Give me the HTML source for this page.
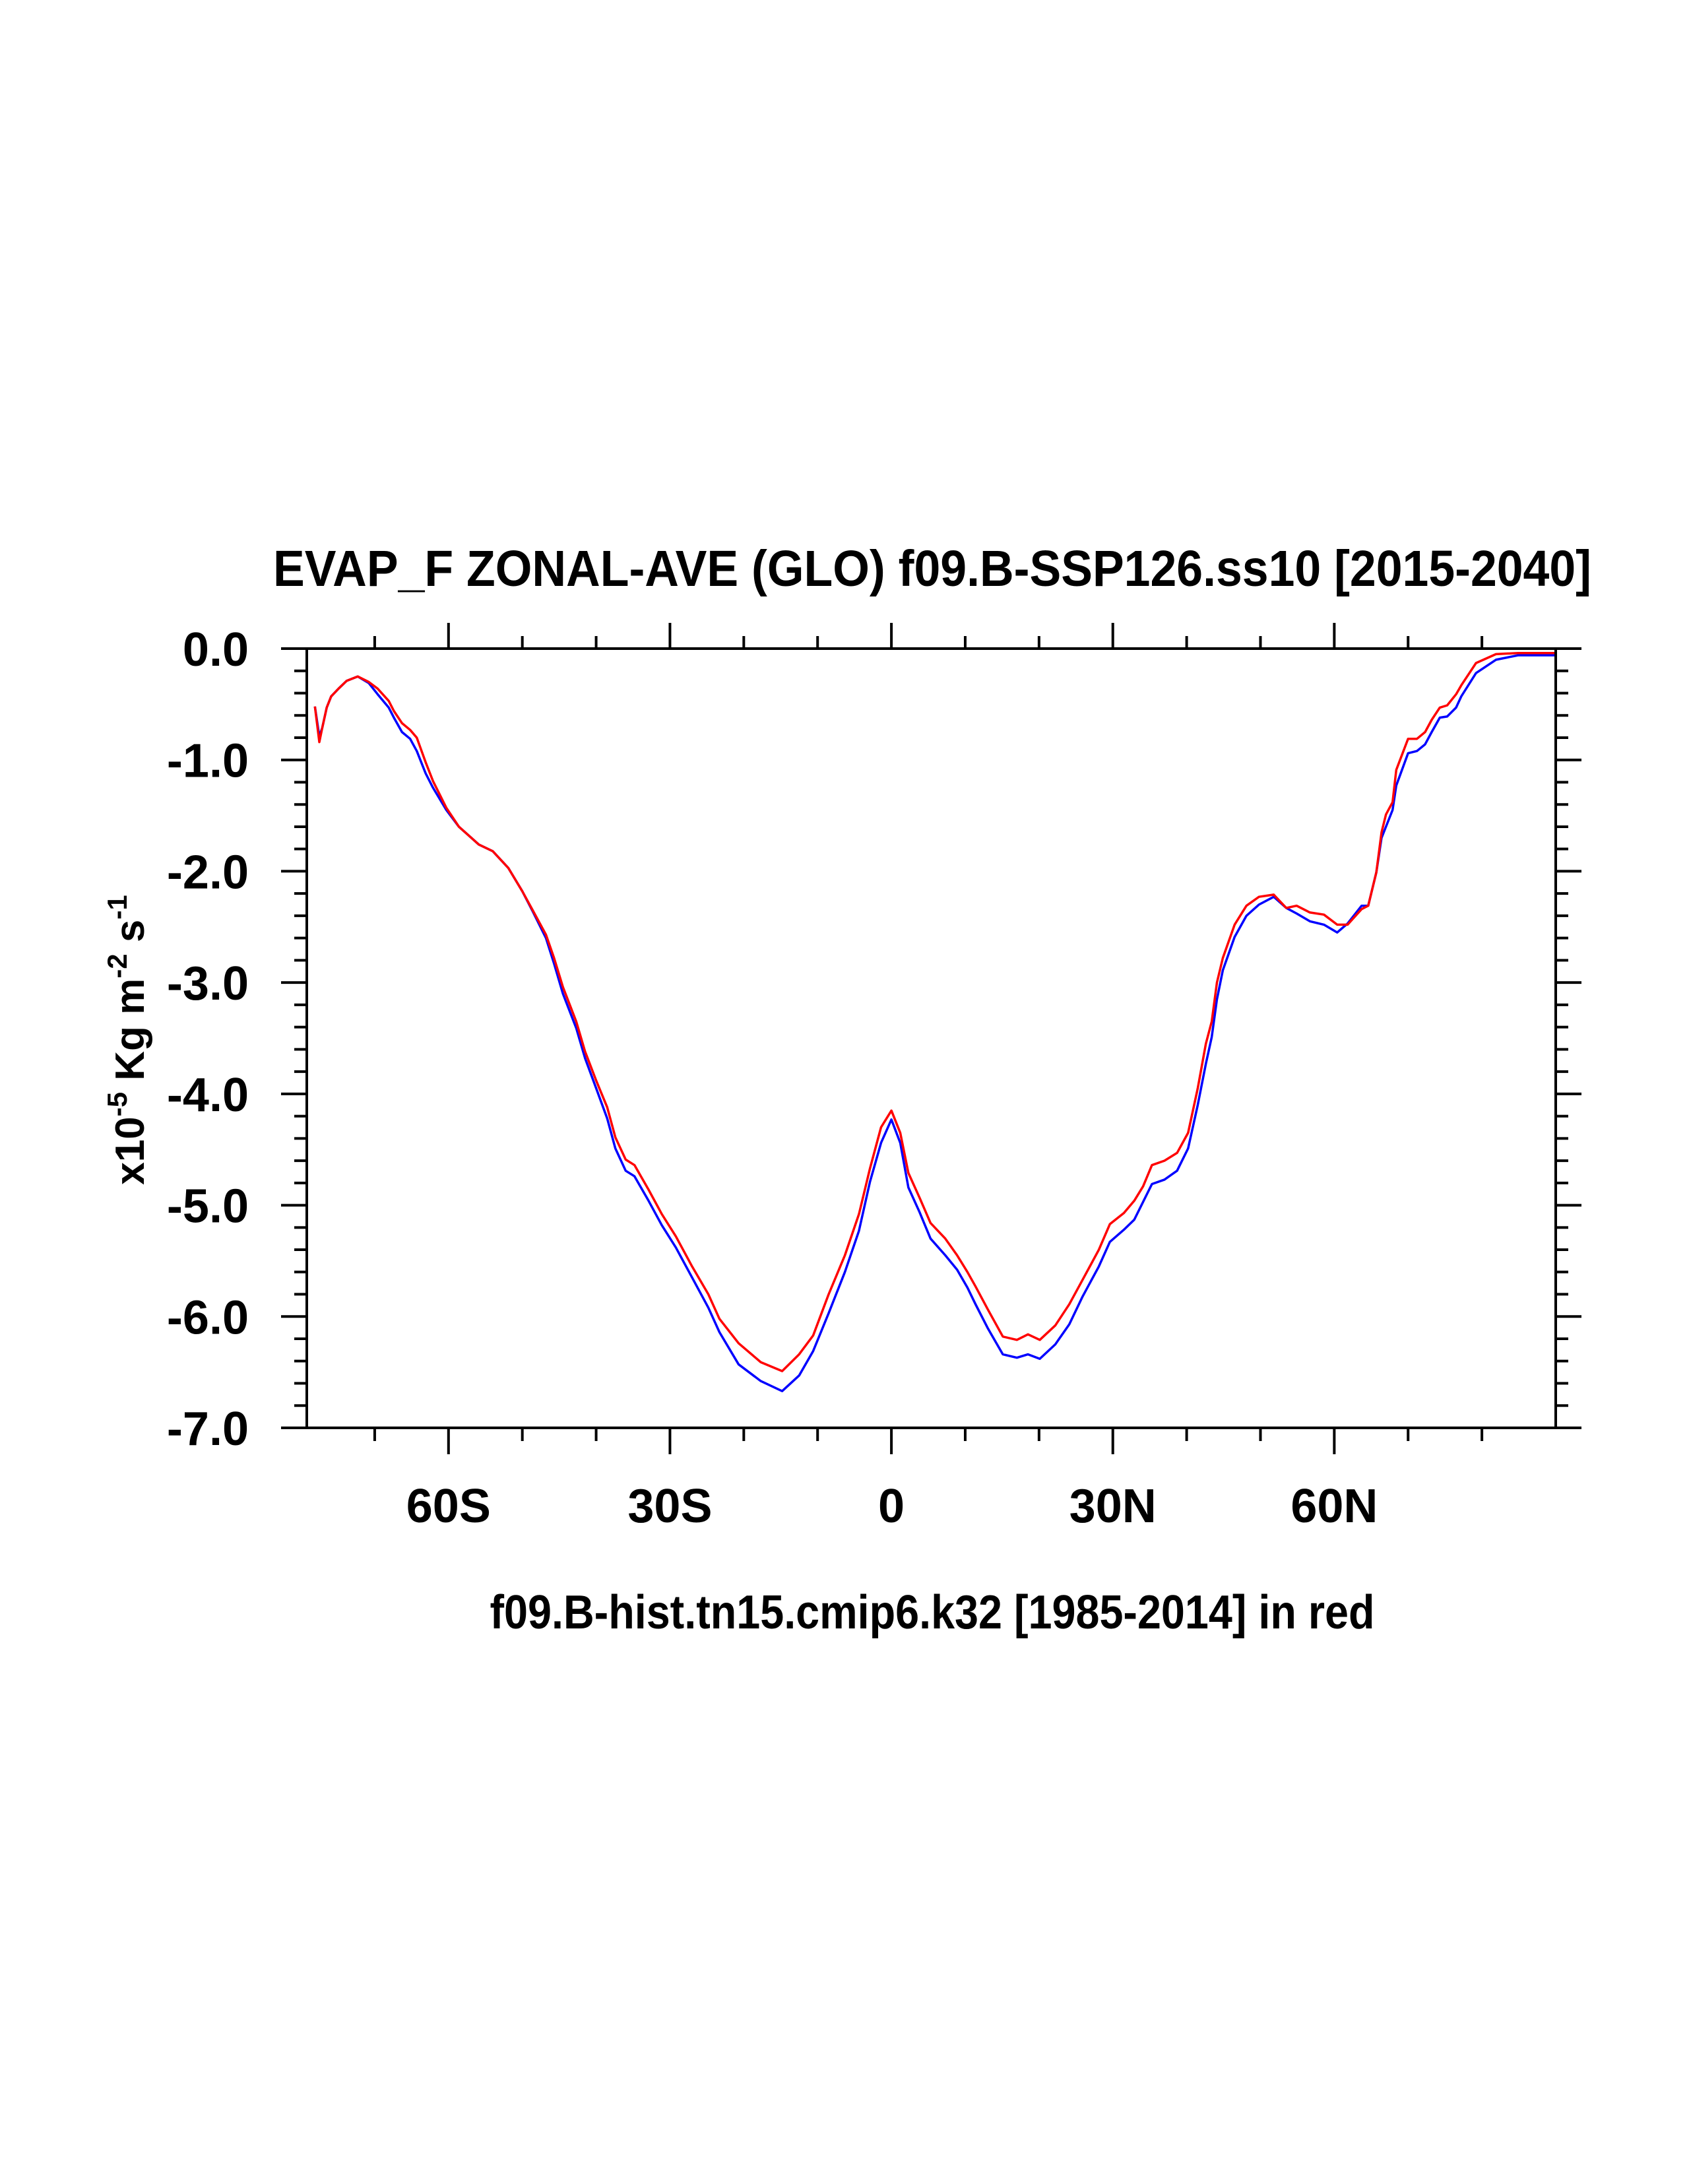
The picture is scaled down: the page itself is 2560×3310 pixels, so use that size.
<!DOCTYPE html>
<html><head><meta charset="utf-8"><style>
html,body{margin:0;padding:0;background:#fff;}
svg{display:block;font-family:"Liberation Sans",sans-serif;font-weight:bold;}
</style></head><body>
<svg id="chart" width="2560" height="3310" viewBox="0 0 2560 3310" xmlns="http://www.w3.org/2000/svg">
<rect width="2560" height="3310" fill="#fff"/>
<text x="1413" y="888" font-size="77" text-anchor="middle" textLength="1998" lengthAdjust="spacingAndGlyphs">EVAP_F ZONAL-AVE (GLO) f09.B-SSP126.ss10 [2015-2040]</text>
<text x="1413" y="2468" font-size="72" text-anchor="middle" textLength="1341" lengthAdjust="spacingAndGlyphs">f09.B-hist.tn15.cmip6.k32 [1985-2014] in red</text>
<text transform="translate(218,1576) rotate(-90)" font-size="62" text-anchor="middle">x10<tspan font-size="42" dy="-26">-5</tspan><tspan dy="26"> Kg m</tspan><tspan font-size="42" dy="-26">-2</tspan><tspan dy="26"> s</tspan><tspan font-size="42" dy="-26">-1</tspan></text>
<g id="ticks"></g>
<g id="series"></g>
<rect x="465" y="983" width="1893" height="1181" fill="none" stroke="#000" stroke-width="4"/>
</svg>
<script>
const lats = [-78.1,-77.5,-77.1,-76.5,-75.9,-74.9,-73.8,-72.3,-70.8,-69.6,-68.1,-67.4,-66.3,-65.2,-64.3,-63.1,-62.1,-60.3,-58.6,-55.9,-54.0,-51.9,-50.0,-48.6,-46.8,-45.7,-44.5,-42.7,-41.5,-40.0,-38.5,-37.4,-36.0,-34.8,-32.9,-31.1,-29.2,-27.0,-24.8,-23.3,-20.7,-17.7,-14.8,-12.5,-10.6,-8.5,-6.3,-4.4,-2.9,-1.4,0,1.2,2.3,3.8,5.3,7.3,8.9,10.3,11.4,13.1,15.1,17.0,18.5,20.1,22.2,24.1,25.9,28.1,29.6,31.5,32.9,34.1,35.3,37.0,38.7,40.2,41.5,42.6,43.4,44.1,44.9,46.5,48.1,49.8,51.8,53.5,54.9,56.7,58.6,60.4,61.8,63.7,64.6,65.7,66.4,67.0,67.9,68.4,70.0,71.2,72.3,73.2,74.3,75.3,76.5,77.2,79.2,81.9,84.9,90];
const blueVals = [-0.52,-0.79,-0.71,-0.53,-0.43,-0.36,-0.29,-0.25,-0.31,-0.41,-0.53,-0.62,-0.75,-0.81,-0.92,-1.12,-1.25,-1.45,-1.60,-1.76,-1.82,-1.97,-2.18,-2.36,-2.60,-2.83,-3.10,-3.41,-3.68,-3.95,-4.22,-4.49,-4.69,-4.74,-4.96,-5.18,-5.38,-5.65,-5.92,-6.14,-6.43,-6.58,-6.67,-6.53,-6.31,-5.97,-5.60,-5.23,-4.79,-4.44,-4.23,-4.44,-4.84,-5.06,-5.30,-5.45,-5.58,-5.74,-5.89,-6.11,-6.34,-6.37,-6.34,-6.38,-6.25,-6.07,-5.82,-5.55,-5.33,-5.22,-5.13,-4.97,-4.81,-4.77,-4.69,-4.49,-4.10,-3.73,-3.49,-3.15,-2.89,-2.59,-2.40,-2.30,-2.23,-2.33,-2.38,-2.45,-2.48,-2.55,-2.47,-2.31,-2.31,-2.01,-1.70,-1.60,-1.45,-1.23,-0.94,-0.92,-0.86,-0.75,-0.62,-0.61,-0.53,-0.43,-0.22,-0.10,-0.06,-0.06];
const redVals = [-0.52,-0.84,-0.71,-0.53,-0.43,-0.36,-0.29,-0.25,-0.30,-0.36,-0.47,-0.56,-0.67,-0.73,-0.80,-1.02,-1.19,-1.43,-1.60,-1.76,-1.82,-1.97,-2.18,-2.35,-2.57,-2.78,-3.04,-3.35,-3.62,-3.88,-4.12,-4.39,-4.59,-4.64,-4.86,-5.08,-5.28,-5.55,-5.80,-6.02,-6.24,-6.41,-6.49,-6.34,-6.17,-5.80,-5.45,-5.08,-4.67,-4.30,-4.15,-4.35,-4.71,-4.93,-5.16,-5.30,-5.45,-5.60,-5.73,-5.94,-6.18,-6.21,-6.16,-6.21,-6.08,-5.89,-5.67,-5.40,-5.17,-5.07,-4.96,-4.83,-4.64,-4.60,-4.53,-4.35,-3.95,-3.55,-3.35,-3.00,-2.78,-2.48,-2.31,-2.23,-2.21,-2.33,-2.31,-2.37,-2.39,-2.48,-2.48,-2.34,-2.31,-2.01,-1.65,-1.49,-1.38,-1.09,-0.81,-0.81,-0.75,-0.64,-0.53,-0.51,-0.41,-0.33,-0.13,-0.05,-0.04,-0.04];
const xMajorTicks = [-60,-30,0,30,60];
const xMajorLabels = ["60S","30S","0","30N","60N"];
const xMinorTicks = [-70,-50,-40,-20,-10,10,20,40,50,70,80];
const yMajorTicks = [0,-1,-2,-3,-4,-5,-6,-7];
const yMajorLabels = ["0.0","-1.0","-2.0","-3.0","-4.0","-5.0","-6.0","-7.0"];

const NS = "http://www.w3.org/2000/svg";
const X0 = 465, X1 = 2358, Y0 = 983, Y1 = 2164;
const LATMIN = -79.2, LATMAX = 90, VMAX = 0, VMIN = -7;
function xs(v){ return X0 + (v - LATMIN) / (LATMAX - LATMIN) * (X1 - X0); }
function ys(v){ return Y0 + (VMAX - v) / (VMAX - VMIN) * (Y1 - Y0); }
const tg = document.getElementById('ticks');
function line(x1,y1,x2,y2,name){
  const l = document.createElementNS(NS,'line');
  l.setAttribute('x1',x1); l.setAttribute('y1',y1); l.setAttribute('x2',x2); l.setAttribute('y2',y2);
  l.setAttribute('stroke','#000'); l.setAttribute('stroke-width','4');
  
  
  tg.appendChild(l);
}
function label(x,y,txt,anchor,name){
  const t = document.createElementNS(NS,'text');
  t.setAttribute('x',x); t.setAttribute('y',y); t.setAttribute('font-size','72'); t.setAttribute('text-anchor',anchor);
  t.textContent = txt;
  
  
  tg.appendChild(t);
}
xMajorTicks.forEach((v,i)=>{
  const x = xs(v);
  line(x,Y0,x,Y0-39,'x-major-tick-top');
  line(x,Y1,x,Y1+40,'x-major-tick-bottom');
  label(x,2307,xMajorLabels[i],'middle','x-tick-label');
});
xMinorTicks.forEach(v=>{
  const x = xs(v);
  line(x,Y0,x,Y0-19,'x-minor-tick-top');
  line(x,Y1,x,Y1+20,'x-minor-tick-bottom');
});
yMajorTicks.forEach((v,i)=>{
  const y = ys(v);
  line(X0,y,X0-39,y,'y-major-tick-left');
  line(X1,y,X1+39,y,'y-major-tick-right');
  label(377,y+26,yMajorLabels[i],'end','y-tick-label');
});
for (let k=0;k<35;k++){
  if (k%5===0) continue;
  const y = ys(-k*0.2);
  line(X0,y,X0-19,y,'y-minor-tick-left');
  line(X1,y,X1+19,y,'y-minor-tick-right');
}
const sg = document.getElementById('series');
function series(vals,color,name){
  const p = document.createElementNS(NS,'polyline');
  p.setAttribute('points', lats.map((la,i)=>xs(la).toFixed(1)+','+ys(vals[i]).toFixed(1)).join(' '));
  p.setAttribute('fill','none'); p.setAttribute('stroke',color); p.setAttribute('stroke-width','3.5');
  p.setAttribute('stroke-linejoin','round');
  
  
  sg.appendChild(p);
}
series(blueVals,'#0000ff','ssp126-series-blue');
series(redVals,'#ff0000','hist-series-red');
</script>
</body></html>
